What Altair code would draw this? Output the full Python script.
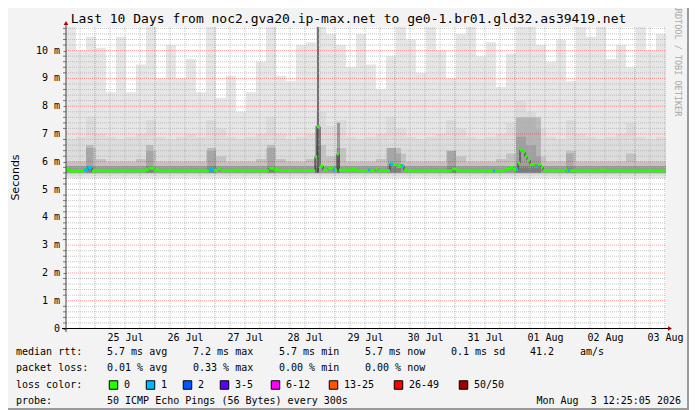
import altair as alt
import pandas as pd

START = pd.Timestamp("2026-07-24 12:25:00")
END = pd.Timestamp("2026-08-03 12:25:00")

# ---- median rtt (ms): change points, hours after START ----
med_h = [0, 1.2, 7.2, 8.8, 10.4, 12.0, 13.6, 31.6, 33.2, 35.2, 37.6, 57.2, 59.2, 60.8, 62.0,
         67.6, 69.6, 81.2, 83.2, 85.6, 99.6, 100.4, 101.6, 102.8, 104.8, 106.8, 108.4, 109.2,
         114.4, 116.0, 123.6, 124.8, 129.6, 130.8, 132.4, 133.6, 135.2, 136.8, 154.4, 156.0,
         157.6, 175.6, 177.6, 178.8, 180.8, 181.6, 182.8, 183.6, 184.4, 185.6, 187.6, 188.8,
         190.0, 190.8, 199.6, 200.4, 213.6, 216.0]
med_v = [5.72, 5.67, 5.70, 5.79, 5.67, 5.69, 5.68, 5.71, 5.77, 5.70, 5.68, 5.72, 5.69, 5.75, 5.68,
         5.70, 5.68, 5.77, 5.71, 5.69, 6.18, 7.26, 5.85, 5.70, 5.77, 5.70, 6.28, 5.70,
         5.72, 5.68, 5.75, 5.68, 5.92, 5.90, 5.83, 5.86, 5.70, 5.68, 5.74, 5.70,
         5.68, 5.73, 5.79, 5.73, 5.96, 6.42, 6.35, 6.18, 6.06, 5.90, 5.83, 5.90,
         5.80, 5.68, 5.73, 5.68, 5.70, 5.68]

# ---- intervals with 1 lost ping ----
loss1_h0 = [7.2, 8.8, 57.2, 106.8, 120.8, 129.6, 134.0, 170.8, 180.0, 187.6, 200.8]
loss1_h1 = [8.8, 10.4, 59.2, 107.6, 121.6, 130.8, 134.8, 171.6, 180.8, 188.8, 201.6]
loss1_v = [5.70, 5.79, 5.72, 5.70, 5.70, 5.92, 5.86, 5.68, 5.75, 5.83, 5.68]

# ---- smoke (ms), 4-hour bins ----
smoke_top = [10.9, 10.0, 10.5, 10.1, 8.5, 10.5, 8.5, 9.5, 10.9, 9.0, 10.2, 9.0, 9.7, 8.5, 10.9,
             8.3, 9.1, 7.8, 8.5, 9.6, 10.9, 9.1, 8.9, 10.2, 10.3, 10.9, 10.6, 10.2, 9.4, 10.6,
             9.5, 8.6, 9.8, 10.9, 10.4, 9.2, 10.9, 10.0, 9.0, 10.6, 10.9, 9.8, 10.3, 8.7, 9.9,
             10.9, 10.9, 10.2, 9.6, 10.4, 8.9, 10.9, 10.5, 10.9, 9.7, 10.2, 9.4, 10.9, 10.0, 10.6]
smoke_mid = [6.8, 6.9, 7.6, 7.0, 6.9, 6.8, 6.9, 7.0, 7.5, 6.9, 6.8, 6.9, 7.0, 6.9, 7.5,
             7.2, 6.9, 6.8, 6.9, 7.0, 7.6, 7.0, 6.8, 6.9, 7.0, 7.8, 7.3, 7.5, 6.9, 6.8,
             6.9, 7.0, 7.6, 7.2, 6.9, 6.8, 6.9, 7.0, 7.5, 7.2, 6.9, 6.8, 6.9, 7.0, 7.4,
             8.2, 7.8, 7.2, 6.9, 6.8, 7.5, 7.0, 6.9, 6.8, 6.9, 7.0, 7.4, 6.9, 6.8, 6.9]
smoke_low = [6.0, 6.0, 6.5, 6.1, 6.0, 6.0, 6.0, 6.1, 6.4, 6.0, 6.0, 6.0, 6.0, 6.0, 6.4,
             6.2, 6.0, 6.0, 6.0, 6.1, 6.5, 6.1, 6.0, 6.0, 6.1, 6.6, 6.2, 6.5, 6.0, 6.0,
             6.0, 6.1, 6.5, 6.3, 6.0, 6.0, 6.0, 6.0, 6.4, 6.2, 6.0, 6.0, 6.0, 6.1, 6.3,
             6.9, 6.6, 6.2, 6.0, 6.0, 6.4, 6.0, 6.0, 6.0, 6.0, 6.0, 6.3, 6.0, 6.0, 6.0]
# darker smoke columns: start h, end h, top ms
dark_h0 = [8.0, 32.0, 56.5, 80.5, 99.6, 100.4, 108.4, 128.5, 152.5, 180.0, 200.0]
dark_h1 = [11.0, 35.0, 60.0, 83.5, 100.4, 101.2, 109.6, 134.0, 156.0, 190.0, 203.0]
dark_top = [6.6, 6.6, 6.5, 6.6, 7.3, 10.85, 7.4, 6.5, 6.4, 7.6, 6.3]
dark_op = [0.15, 0.15, 0.15, 0.15, 0.25, 0.5, 0.3, 0.15, 0.15, 0.18, 0.12]

day_dates = [(7, 25), (7, 26), (7, 27), (7, 28), (7, 29), (7, 30), (7, 31), (8, 1), (8, 2), (8, 3)]
y_major = list(range(0, 11))
y_labels = ["0\u00a0\u00a0"] + [f"{v} m" for v in y_major[1:]]
y_minor = [round(0.2 * i, 1) for i in range(1, 55) if i % 5 != 0]

loss_colors = ["#26ff00", "#00b8ff", "#0059ff", "#5e00ff", "#ff00ff", "#ff5500", "#ff0000", "#a10000"]
loss_labels = ["0", "1", "2", "3-5", "6-12", "13-25", "26-49", "50/50"]

MONO = "DejaVu Sans Mono"


def at(hours):
    return [START + pd.Timedelta(hours=h) for h in hours]


xs = alt.Scale(domain=[alt.DateTime(year=2026, month=7, date=24, hours=12, minutes=25),
                       alt.DateTime(year=2026, month=8, date=3, hours=12, minutes=25)])
ys = alt.Scale(domain=[0, 10.85], nice=False, zero=False)

xaxis = alt.Axis(values=[alt.DateTime(year=2026, month=m, date=d, hours=12) for m, d in day_dates],
                 format="%d %b", labelFont=MONO, labelFontSize=10, labelColor="black",
                 tickSize=0, domain=False, grid=False, labelPadding=4, title=None,
                 labelOverlap=False, labelFlush=False)
yaxis = alt.Axis(values=y_major, grid=False, domain=False, tickSize=3, tickColor="#777777",
                 labels=False,
                 title="Seconds", titleFont="DejaVu Sans", titleFontSize=11, titleFontWeight="normal",
                 titleColor="black", titleX=-51, titleY=150, titleAngle=270,
                 titleAlign="center", titleBaseline="middle")

# smoke table
bt = at([4 * i for i in range(60)])
smoke = pd.DataFrame({
    "t": bt, "t2": [t + pd.Timedelta(hours=4) for t in bt],
    "top": smoke_top, "mid": smoke_mid, "low": smoke_low,
})
smoke["b1"] = 5.42
smoke["b2"] = 5.50
smoke["b3"] = 5.58
smoke["c1"] = 5.60
smoke["c2"] = 5.85

dark = pd.DataFrame({"t": at(dark_h0), "t2": at(dark_h1), "top": dark_top, "op": dark_op})
dark["b"] = 5.60

base = alt.Chart(smoke)


def smoke_layer(lo, hi, **mk):
    return base.mark_rect(clip=True, **mk).encode(
        x=alt.X("t:T", scale=xs), x2="t2:T",
        y=alt.Y(f"{lo}:Q", scale=ys), y2=f"{hi}:Q")


light = base.mark_rect(clip=True, color="#e6e6e6").encode(
    x=alt.X("t:T", scale=xs, axis=xaxis), x2="t2:T",
    y=alt.Y("b1:Q", scale=ys, axis=yaxis), y2="top:Q")
mid = smoke_layer("b2", "mid", color="black", opacity=0.045)
low = smoke_layer("b3", "low", color="black", opacity=0.11)
core = smoke_layer("c1", "c2", color="black", opacity=0.22)
darkl = alt.Chart(dark).mark_rect(clip=True, color="black").encode(
    x=alt.X("t:T", scale=xs), x2="t2:T", y=alt.Y("b:Q", scale=ys), y2="top:Q",
    opacity=alt.Opacity("op:Q", scale=None))

# grid
hmin = pd.DataFrame({"v": y_minor})
hmaj = pd.DataFrame({"v": y_major[1:]})
vt = pd.date_range("2026-07-24 18:00", "2026-08-03 12:00", freq="6h")
vmin = pd.DataFrame({"t": [t for t in vt if t.hour != 0]})
vmaj = pd.DataFrame({"t": [t for t in vt if t.hour == 0]})

h_minor = alt.Chart(hmin).mark_rule(color="#ababab", strokeDash=[1, 1], opacity=0.7).encode(
    y=alt.Y("v:Q", scale=ys), x=alt.value(0), x2=alt.value(600))
h_ticks = alt.Chart(hmin).mark_rule(color="#777777").encode(
    y=alt.Y("v:Q", scale=ys), x=alt.value(-3), x2=alt.value(0))
h_major = alt.Chart(hmaj).mark_rule(color="#ff0000", strokeDash=[1, 1], opacity=0.4).encode(
    y=alt.Y("v:Q", scale=ys), x=alt.value(0), x2=alt.value(600))
v_minor = alt.Chart(vmin).mark_rule(color="#ababab", strokeDash=[1, 1], opacity=0.7).encode(
    x=alt.X("t:T", scale=xs), y=alt.value(0), y2=alt.value(301.5))
v_major = alt.Chart(vmaj).mark_rule(color="#ff0000", strokeDash=[1, 1], opacity=0.4).encode(
    x=alt.X("t:T", scale=xs), y=alt.value(0), y2=alt.value(301.5))

# y tick labels placed through the y scale
ylab = alt.Chart(pd.DataFrame({"v": y_major, "s": y_labels})).mark_text(
    font=MONO, fontSize=10, align="right", baseline="middle", color="black").encode(
    y=alt.Y("v:Q", scale=ys), x=alt.value(-6), text="s:N")

# median
mt = at(med_h)
med = pd.DataFrame({"t": mt, "t2": mt[1:] + [END], "v": med_v})
med_line_df = pd.DataFrame({"t": mt + [END], "v": med_v + [med_v[-1]]})
connector = alt.Chart(med_line_df).mark_line(interpolate="step-after", color="#303030", strokeWidth=1).encode(
    x=alt.X("t:T", scale=xs), y=alt.Y("v:Q", scale=ys))
median = alt.Chart(med).mark_rule(color="#26ff00", strokeWidth=3).encode(
    x=alt.X("t:T", scale=xs), x2="t2:T", y=alt.Y("v:Q", scale=ys))
l1 = pd.DataFrame({"t": at(loss1_h0), "t2": at(loss1_h1), "v": loss1_v})
loss1 = alt.Chart(l1).mark_rule(color="#00b8ff", strokeWidth=3).encode(
    x=alt.X("t:T", scale=xs), x2="t2:T", y=alt.Y("v:Q", scale=ys))

one = pd.DataFrame({"a": [0]})
xline = alt.Chart(one).mark_rule(color="black", strokeWidth=1).encode(
    x=alt.value(-4), x2=alt.value(603), y=alt.value(301.5))
yline = alt.Chart(one).mark_rule(color="#444444", strokeWidth=1).encode(
    x=alt.value(0), y=alt.value(-4), y2=alt.value(305))
arrow_r = alt.Chart(one).mark_point(shape="triangle-right", filled=True, color="#b00000", size=22, opacity=1).encode(
    x=alt.value(604), y=alt.value(301.5))
arrow_u = alt.Chart(one).mark_point(shape="triangle-up", filled=True, color="#b00000", size=22, opacity=1).encode(
    x=alt.value(0), y=alt.value(-4))
border_r = alt.Chart(one).mark_rule(color="#9a9a9a", strokeWidth=2).encode(
    x=alt.value(622), y=alt.value(-27), y2=alt.value(383))
border_b = alt.Chart(one).mark_rule(color="#9a9a9a", strokeWidth=2).encode(
    y=alt.value(382), x=alt.value(-66), x2=alt.value(623))

# texts
texts = pd.DataFrame([
    ("median rtt:", -50, 325), ("5.7 ms avg", 41, 325), ("7.2 ms max", 127, 325),
    ("5.7 ms min", 213, 325), ("5.7 ms now", 299, 325), ("0.1 ms sd", 385, 325),
    ("41.2", 464, 325), ("am/s", 514, 325),
    ("packet loss:", -50, 341), ("0.01 % avg", 41, 341), ("0.33 % max", 127, 341),
    ("0.00 % min", 213, 341), ("0.00 % now", 299, 341),
    ("loss color:", -50, 358),
    ("probe:", -50, 374), ("50 ICMP Echo Pings (56 Bytes) every 300s", 41, 374),
], columns=["s", "px", "py"])
sq_x = [47.5, 84.5, 121.5, 158.5, 209.5, 267.5, 332.5, 397.5]
lab_x = [58, 95, 132, 169, 220, 278, 343, 408]
texts = pd.concat([texts, pd.DataFrame({"s": loss_labels, "px": lab_x, "py": [358] * 8})])

legend_text = alt.Chart(texts).mark_text(font=MONO, fontSize=10, align="left", baseline="middle", color="black").encode(
    x=alt.X("px:Q", scale=None, axis=None), y=alt.Y("py:Q", scale=None, axis=None), text="s:N")
date_text = alt.Chart(pd.DataFrame({"s": ["Mon Aug\u00a0\u00a03 12:25:05 2026"]})).mark_text(
    font=MONO, fontSize=10, align="right", baseline="middle", color="black").encode(
    x=alt.value(615), y=alt.value(374), text="s:N")
squares = alt.Chart(pd.DataFrame({"px": sq_x, "py": [358] * 8, "c": loss_colors})).mark_square(
    filled=True, stroke="black", strokeWidth=1, size=72, opacity=1).encode(
    x=alt.X("px:Q", scale=None, axis=None), y=alt.Y("py:Q", scale=None, axis=None),
    fill=alt.Fill("c:N", scale=None))
title = alt.Chart(pd.DataFrame({"s": ["Last 10 Days from noc2.gva20.ip-max.net to ge0-1.br01.gld32.as39419.net"]})).mark_text(
    font=MONO, fontSize=13, align="center", baseline="middle", color="black").encode(
    x=alt.value(282.5), y=alt.value(-8), text="s:N")
rrd = alt.Chart(pd.DataFrame({"s": ["RRDTOOL / TOBI OETIKER"]})).mark_text(
    font=MONO, fontSize=8.5, align="center", baseline="middle", color="#a8a8a8", angle=90).encode(
    x=alt.value(612), y=alt.value(33), text="s:N")

chart = alt.layer(
    light, mid, low, core, darkl,
    h_minor, v_minor, h_major, v_major, h_ticks, ylab,
    connector, median, loss1,
    xline, yline, arrow_r, arrow_u, border_r, border_b,
    legend_text, date_text, squares, title, rrd,
).properties(
    width=600, height=301.5,
    padding={"left": 58, "top": 19, "right": 23, "bottom": 81.5},
    autosize=alt.AutoSizeParams(type="none"),
    background="#f3f3f3",
).configure_view(fill="white", strokeWidth=0)

chart.save("out.html", embed_options={"renderer": "svg", "actions": False})
